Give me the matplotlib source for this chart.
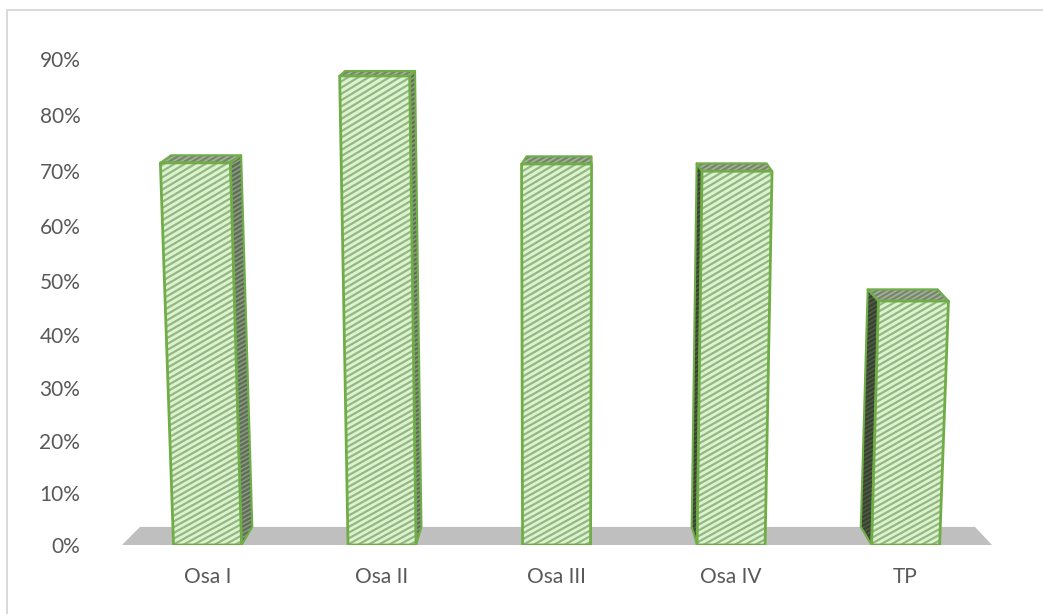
import numpy as np
import matplotlib
matplotlib.use('Agg')
import matplotlib.pyplot as plt
from matplotlib.collections import LineCollection
from matplotlib.lines import Line2D
from matplotlib.patches import Polygon

categories = ['Osa I', 'Osa II', 'Osa III', 'Osa IV', 'TP']
values = [71.5, 87, 71.3, 70, 46.3]
y_ticks = [0, 10, 20, 30, 40, 50, 60, 70, 80, 90]

W, H = 1043, 614
PX_X = 1 / 174.5  # one pixel in category units
PX_Y = 1 / 5.4    # one pixel in percent units (near enough)
BAR_W = 68 * PX_X
GREEN = '#70AD47'
TXT = '#595959'
A, B = 5.13, 0.003  # the value axis is slightly stretched towards the top

plt.rcParams['font.family'] = ['Lato', 'DejaVu Sans']


def stretch(v):
	return A * v + B * v * v


def unstretch(y):
	return (-A + np.sqrt(np.maximum(A * A + 4 * B * y, 0))) / (2 * B)


fig = plt.figure(figsize=(W / 100, H / 100), dpi=100)
fig.patch.set_facecolor('white')
# only the top and left edge of the frame are in the picture
fig.add_artist(Line2D([7 / W, 7 / W, 1], [0, 1 - 10 / H, 1 - 10 / H], transform=fig.transFigure,
                      color='#D9D9D9', lw=1.4))

ax = fig.add_axes([122 / W, 1 - 545 / H, 870 / W, 486 / H])
ax.set_xlim(-0.49, 4.495)
ax.set_yscale('function', functions=(stretch, unstretch))
ax.set_ylim(0, 90)
ax.patch.set_alpha(0)
for s in ax.spines.values():
	s.set_visible(False)
ax.set_xticks(range(len(categories)))
ax.set_xticklabels(categories)
ax.set_yticks(y_ticks)
ax.set_yticklabels([str(t) + '%' for t in y_ticks])
ax.minorticks_off()
ax.tick_params(length=0, labelsize=15, colors=TXT)
ax.tick_params(axis='y', pad=30)
ax.tick_params(axis='x', pad=16)


def stripes(poly, color, lw, spacing):
	# shallow diagonal stripes clipped to a face
	pts = np.array(poly.get_xy())
	x0, x1 = pts[:, 0].min() - 0.02, pts[:, 0].max() + 0.02
	slope = 0.58 * PX_X ** -1 * PX_Y
	y_lo = pts[:, 1].min() - slope * (x1 - x0)
	y_hi = pts[:, 1].max() + spacing * PX_Y
	segs = []
	for y in np.arange(y_lo, y_hi, spacing * PX_Y):
		y_end = y + slope * (x1 - x0)
		if y_end <= 0:
			continue
		# stripes that start under the baseline begin where they cross it
		x_start = x0 if y >= 0 else x0 - y / slope
		segs.append([(x_start, max(y, 0)), (x1, y_end)])
	lc = LineCollection(segs, colors=color, linewidths=lw, zorder=poly.get_zorder() + 0.1)
	ax.add_collection(lc, autolim=False)
	lc.set_clip_path(poly)


def face(corners, fill, stripe, z, lw=2, spacing=6):
	p = Polygon(corners, closed=True, fc=fill, ec='none', zorder=z)
	ax.add_patch(p)
	stripes(p, stripe, 1.6, spacing)
	ax.add_patch(Polygon(corners, closed=True, fc='none', ec=GREEN, lw=lw, joinstyle='round', zorder=z + 0.2))


# floor of the chart
ax.add_patch(Polygon([(-0.49, 0), (-0.49 + 18 * PX_X, 19 * PX_Y), (4.495 - 17 * PX_X, 19 * PX_Y), (4.495, 0)],
                     closed=True, fc='#BFBFBF', ec='none', clip_on=False, zorder=1))

for i, v in enumerate(values):
	off = i - 2
	lean = off * 0.085 * v * PX_X
	depth = -5.4 * off * PX_X
	rise = 19.5 * (1 - v / 115) * PX_Y
	fl, fr = i - BAR_W / 2, i + BAR_W / 2
	tl, tr = fl + lean - 1 * PX_X, fr + lean + 1 * PX_X
	# side wall, only the one turned to the viewer
	if off < 0:
		face([(tr, v), (tr + depth, v + rise), (fr + depth, 19 * PX_Y), (fr, 0)], '#8A9A80', '#5E6E56', 3, 1.5, 4.5)
	elif off > 0:
		face([(tl, v), (tl + depth, v + rise), (fl + depth, 19 * PX_Y), (fl, 0)], '#4E5C47', '#38432F', 3, 1.5, 4.5)
	# lid
	lid_l = tl + depth + (0 if off else 5 * PX_X)
	face([(tl, v), (lid_l, v + rise), (tr + depth, v + rise), (tr, v)], '#A3B198', '#75866A', 4, 1.5, 4.5)
	# front
	face([(fl, 0), (tl, v), (tr, v), (fr, 0)], '#DCF3D0', '#95B783', 5)

fig.savefig('out.png', dpi=100)
